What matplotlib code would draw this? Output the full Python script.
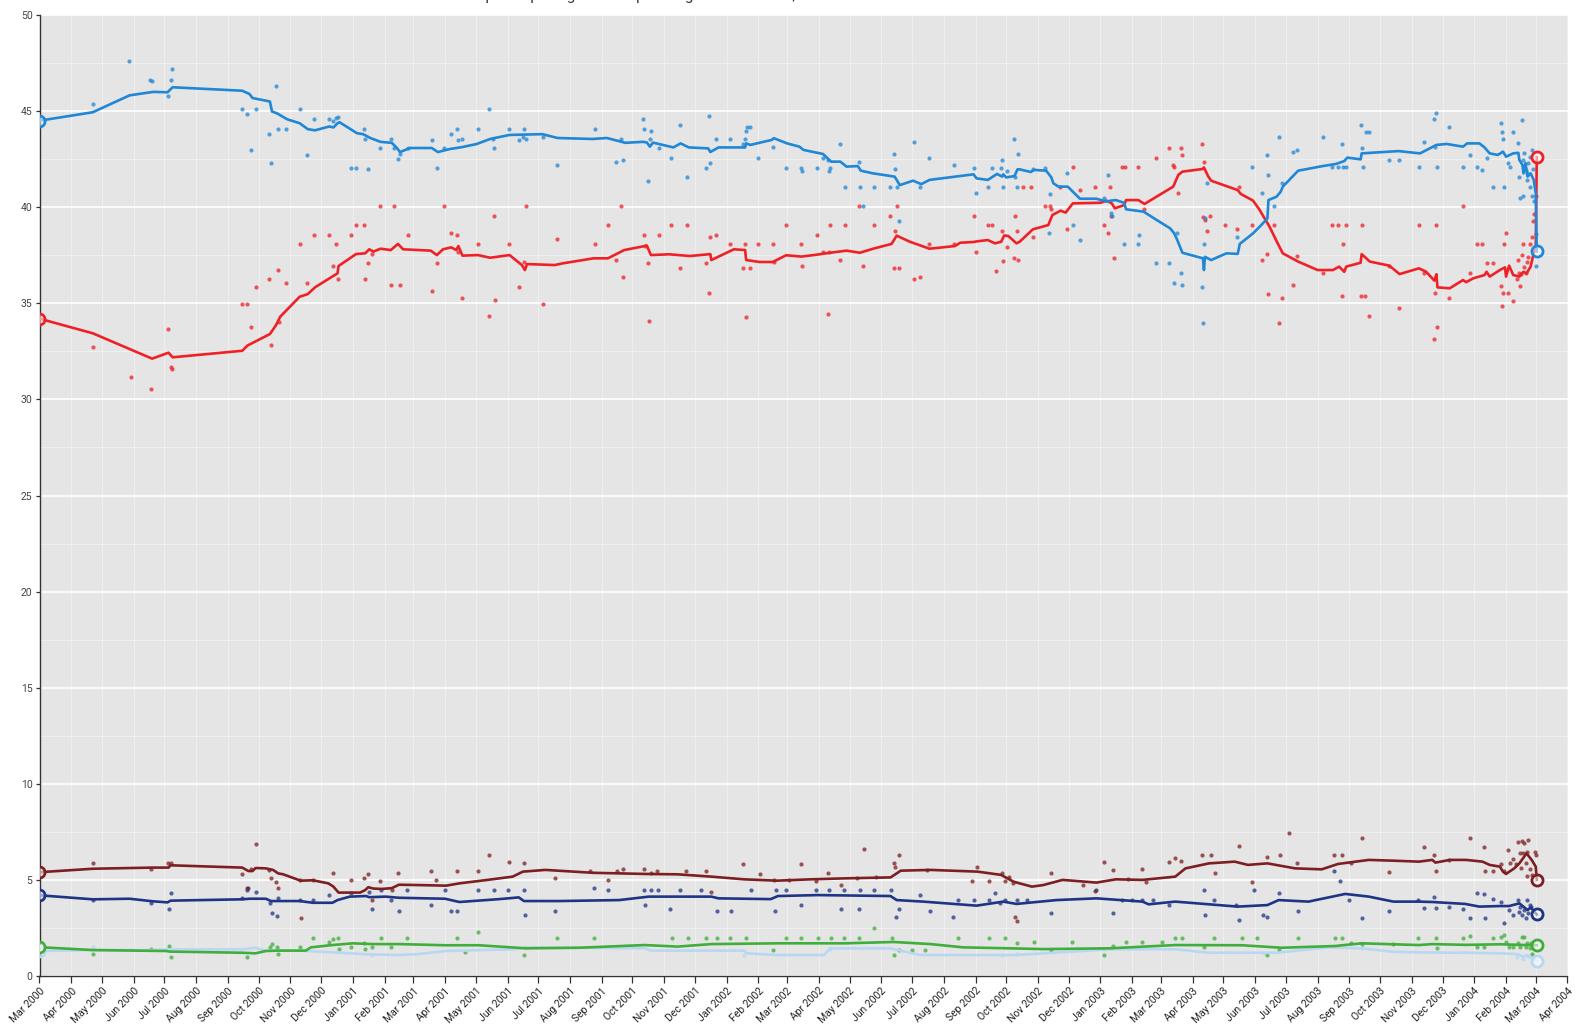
import matplotlib
matplotlib.use('Agg')
import matplotlib.pyplot as plt
import matplotlib.dates as mdates
from matplotlib.ticker import MultipleLocator
import pandas as pd

plt.rcParams['font.family'] = ['Roboto', 'DejaVu Sans']

# ---------------- PP ----------------
pp_trend_dates = [
    '2000-03-01', '2000-04-22', '2000-05-28', '2000-06-20', '2000-07-04', '2000-07-09', '2000-09-15',
    '2000-09-22', '2000-09-25', '2000-10-12', '2000-10-14', '2000-10-19', '2000-10-29', '2000-11-10',
    '2000-11-18', '2000-11-25', '2000-12-09', '2000-12-13', '2000-12-17', '2000-12-19', '2001-01-05',
    '2001-01-11', '2001-01-18', '2001-01-28', '2001-02-08', '2001-02-13', '2001-02-16', '2001-02-26',
    '2001-03-19', '2001-03-25', '2001-04-06', '2001-04-18', '2001-05-02', '2001-05-15', '2001-06-03',
    '2001-07-05', '2001-07-20', '2001-08-23', '2001-09-06', '2001-09-24', '2001-10-11', '2001-10-15',
    '2001-10-18', '2001-10-21', '2001-11-10', '2001-11-17', '2001-11-25', '2001-12-14', '2001-12-16',
    '2001-12-24', '2002-01-19', '2002-01-20', '2002-01-24', '2002-02-14', '2002-02-16', '2002-03-01',
    '2002-03-13', '2002-03-17', '2002-04-05', '2002-04-13', '2002-04-22', '2002-04-28', '2002-05-09',
    '2002-05-12', '2002-05-24', '2002-06-14', '2002-06-19', '2002-07-02', '2002-07-10', '2002-07-18',
    '2002-08-12', '2002-08-30', '2002-09-02', '2002-09-13', '2002-09-22', '2002-09-27', '2002-09-28',
    '2002-10-01', '2002-10-09', '2002-10-12', '2002-10-14', '2002-10-25', '2002-10-28', '2002-11-09',
    '2002-11-14', '2002-11-16', '2002-11-21', '2002-11-30', '2002-12-12', '2002-12-28', '2003-01-07',
    '2003-01-11', '2003-01-16', '2003-01-24', '2003-01-26', '2003-02-12', '2003-02-25', '2003-03-10',
    '2003-03-14', '2003-03-17', '2003-03-22', '2003-04-11', '2003-04-12', '2003-04-13', '2003-04-19',
    '2003-05-04', '2003-05-15', '2003-05-17', '2003-05-30', '2003-06-07', '2003-06-13', '2003-06-14',
    '2003-06-22', '2003-06-26', '2003-06-28', '2003-07-13', '2003-08-06', '2003-08-19', '2003-08-27',
    '2003-08-30', '2003-09-12', '2003-09-13', '2003-10-19', '2003-11-09', '2003-11-25', '2003-12-05',
    '2003-12-21', '2003-12-25', '2004-01-06', '2004-01-11', '2004-01-16', '2004-01-24', '2004-01-29',
    '2004-02-01', '2004-02-08', '2004-02-13', '2004-02-14', '2004-02-17', '2004-02-18', '2004-02-20',
    '2004-02-22', '2004-02-25', '2004-02-28', '2004-03-01', '2004-03-02']
pp_trend = [
    44.5, 44.94, 45.82, 46.0, 45.98, 46.24, 46.06, 45.89, 45.68, 45.5, 44.98, 44.88, 44.57, 44.37,
    44.06, 44.0, 44.2, 44.15, 44.37, 44.42, 43.85, 43.8, 43.6, 43.4, 43.35, 43.08, 42.87, 43.08,
    43.08, 42.87, 43.03, 43.13, 43.29, 43.55, 43.76, 43.8, 43.6, 43.55, 43.6, 43.35, 43.4, 43.37,
    43.15, 43.36, 43.11, 43.32, 43.11, 43.06, 42.87, 43.11, 43.11, 43.32, 43.24, 43.5, 43.59, 43.32,
    43.15, 42.98, 42.77, 42.37, 42.37, 42.11, 42.14, 41.9, 41.76, 41.59, 41.15, 41.38, 41.2, 41.42,
    41.59, 41.71, 41.5, 41.42, 41.73, 41.59, 41.71, 41.55, 41.62, 41.97, 41.97, 41.83, 41.94, 41.9,
    41.55, 41.24, 41.07, 41.07, 40.44, 40.44, 40.29, 40.34, 40.37, 40.23, 39.89, 39.77, 39.33, 38.9,
    38.64, 38.29, 37.63, 37.34, 36.73, 37.42, 37.25, 37.6, 37.57, 38.09, 38.64, 39.07, 39.42, 40.37,
    40.55, 40.81, 41.07, 41.9, 42.14, 42.25, 42.4, 42.58, 42.49, 42.8, 42.92, 42.8, 43.24, 43.29,
    43.15, 43.32, 43.32, 43.11, 42.8, 42.72, 42.89, 42.63, 42.8, 42.83, 42.46, 42.2, 41.76, 42.3,
    41.59, 41.76, 41.42, 40.72, 37.7]
pp_poll_dates = [
    '2000-04-22', '2000-05-27', '2000-06-17', '2000-06-19', '2000-07-04', '2000-07-07', '2000-07-08',
    '2000-09-15', '2000-09-20', '2000-09-24', '2000-09-28', '2000-10-11', '2000-10-13', '2000-10-18',
    '2000-10-20', '2000-10-28', '2000-11-10', '2000-11-17', '2000-11-24', '2000-12-09', '2000-12-13',
    '2000-12-16', '2000-12-17', '2000-12-30', '2001-01-04', '2001-01-12', '2001-01-13', '2001-01-16',
    '2001-01-27', '2001-02-07', '2001-02-10', '2001-02-14', '2001-02-16', '2001-02-24', '2001-03-19',
    '2001-03-24', '2001-03-31', '2001-04-07', '2001-04-13', '2001-04-14', '2001-04-18', '2001-05-03',
    '2001-05-14', '2001-05-18', '2001-05-19', '2001-06-02', '2001-06-12', '2001-06-16', '2001-06-17',
    '2001-06-19', '2001-07-06', '2001-07-19', '2001-08-25', '2001-09-15', '2001-09-20', '2001-09-22',
    '2001-10-11', '2001-10-12', '2001-10-16', '2001-10-18', '2001-10-19', '2001-10-27', '2001-11-08',
    '2001-11-16', '2001-11-23', '2001-12-12', '2001-12-16', '2001-12-15', '2001-12-22', '2002-01-04',
    '2002-01-19', '2002-01-20', '2002-01-21', '2002-01-24', '2002-01-17', '2002-02-01', '2002-02-15',
    '2002-02-28', '2002-03-15', '2002-03-16', '2002-03-30', '2002-04-05', '2002-04-10', '2002-04-12',
    '2002-04-11', '2002-04-22', '2002-04-27', '2002-05-10', '2002-05-11', '2002-05-14', '2002-05-25',
    '2002-06-09', '2002-06-13', '2002-06-14', '2002-06-16', '2002-06-18', '2002-07-03', '2002-07-09',
    '2002-07-18', '2002-08-11', '2002-08-30', '2002-09-01', '2002-09-13', '2002-09-17', '2002-09-27',
    '2002-09-26', '2002-09-28', '2002-10-02', '2002-10-09', '2002-10-12', '2002-10-10', '2002-10-11',
    '2002-10-27', '2002-11-08', '2002-11-13', '2002-11-12', '2002-11-29', '2002-12-05', '2002-12-12',
    '2003-01-04', '2003-01-08', '2003-01-11', '2003-01-12', '2003-01-24', '2003-02-07', '2003-02-08',
    '2003-02-24', '2003-03-09', '2003-03-14', '2003-03-17', '2003-03-21', '2003-03-22', '2003-04-10',
    '2003-04-11', '2003-04-12', '2003-04-13', '2003-04-15', '2003-05-14', '2003-05-29', '2003-06-08',
    '2003-06-13', '2003-06-14', '2003-06-19', '2003-06-24', '2003-06-27', '2003-07-08', '2003-07-12',
    '2003-08-06', '2003-08-15', '2003-08-21', '2003-08-26', '2003-08-29', '2003-08-25', '2003-09-12',
    '2003-09-13', '2003-09-14', '2003-09-17', '2003-09-20', '2003-10-10', '2003-10-19', '2003-11-08',
    '2003-11-13', '2003-11-23', '2003-11-25', '2003-11-26', '2003-11-24', '2003-12-07', '2003-12-21',
    '2003-12-28', '2004-01-04', '2004-01-09', '2004-01-13', '2004-01-19', '2004-01-27', '2004-01-28',
    '2004-01-29', '2004-01-30', '2004-02-03', '2004-02-05', '2004-02-08', '2004-02-13', '2004-02-15',
    '2004-02-17', '2004-02-14', '2004-02-18', '2004-02-19', '2004-02-20', '2004-02-21', '2004-02-22',
    '2004-02-24', '2004-02-26', '2004-02-26', '2004-02-27', '2004-02-28', '2004-03-01', '2004-03-01',
    '2004-02-18', '2004-02-24', '2004-02-21']
pp_polls = [
    45.38, 47.6, 46.6, 46.57, 45.79, 46.6, 47.2, 45.09, 44.87, 42.98, 45.09, 43.79, 42.28, 46.31,
    44.07, 44.07, 45.09, 42.7, 44.59, 44.59, 44.5, 44.62, 44.71, 42.05, 42.05, 44.07, 43.55, 41.97,
    43.1, 43.55, 43.06, 42.49, 42.77, 43.1, 43.5, 42.05, 43.1, 43.79, 44.07, 43.5, 43.55, 44.07,
    45.09, 43.55, 43.1, 44.07, 43.5, 43.67, 44.07, 43.55, 43.67, 42.18, 44.07, 42.37, 43.55, 42.46,
    44.57, 44.07, 41.38, 43.55, 43.97, 43.1, 42.58, 44.3, 41.55, 42.05, 42.28, 44.76, 43.55, 43.55,
    43.55, 43.97, 44.19, 44.19, 43.27, 42.58, 43.15, 42.05, 42.05, 41.88, 42.05, 42.58, 42.46, 42.05,
    41.88, 43.27, 41.07, 42.37, 41.07, 40.06, 41.07, 41.07, 42.77, 41.97, 41.07, 39.26, 43.37, 41.07,
    42.58, 42.18, 42.05, 40.75, 41.07, 42.05, 42.46, 42.05, 41.07, 41.88, 43.55, 42.77, 41.55, 41.07,
    41.97, 42.05, 40.69, 38.67, 41.8, 39.07, 38.29, 40.46, 41.68, 39.68, 39.54, 38.07, 38.07, 38.55,
    37.08, 37.08, 36.07, 38.67, 36.56, 35.95, 35.86, 33.96, 38.07, 39.42, 41.24, 38.47, 42.07, 40.75,
    42.7, 41.68, 40.06, 43.67, 41.24, 42.87, 42.98, 43.67, 42.07, 42.07, 42.07, 42.07, 43.27, 44.3,
    43.1, 42.07, 43.9, 43.9, 42.46, 42.46, 42.07, 43.37, 44.59, 44.88, 42.07, 43.11, 44.19, 42.07,
    42.7, 42.07, 41.94, 42.58, 41.07, 44.36, 43.93, 43.55, 41.07, 42.28, 42.07, 43.93, 43.36, 40.46,
    44.54, 41.59, 40.6, 42.8, 41.94, 41.42, 42.28, 41.07, 40.6, 42.96, 42.0, 40.3, 38.6, 36.96,
    42.46, 42.6, 41.8]

# ---------------- PSOE ----------------
psoe_trend_dates = [
    '2000-03-01', '2000-04-22', '2000-06-19', '2000-07-05', '2000-07-09', '2000-09-15', '2000-09-20',
    '2000-10-12', '2000-10-18', '2000-10-22', '2000-11-10', '2000-11-18', '2000-11-25', '2000-12-17',
    '2000-12-18', '2001-01-04', '2001-01-13', '2001-01-17', '2001-01-21', '2001-01-28', '2001-02-07',
    '2001-02-14', '2001-02-19', '2001-03-18', '2001-03-24', '2001-03-30', '2001-04-07', '2001-04-12',
    '2001-04-14', '2001-04-18', '2001-05-03', '2001-05-15', '2001-06-03', '2001-06-15', '2001-06-18',
    '2001-06-20', '2001-07-17', '2001-07-25', '2001-08-24', '2001-09-07', '2001-09-23', '2001-10-13',
    '2001-10-15', '2001-10-19', '2001-11-06', '2001-11-26', '2001-12-16', '2001-12-17', '2002-01-08',
    '2002-01-19', '2002-01-20', '2002-02-02', '2002-02-15', '2002-02-28', '2002-03-15', '2002-03-30',
    '2002-04-12', '2002-04-28', '2002-05-11', '2002-05-24', '2002-06-11', '2002-06-16', '2002-06-29',
    '2002-07-18', '2002-08-12', '2002-08-17', '2002-08-30', '2002-09-02', '2002-09-13', '2002-09-20',
    '2002-09-26', '2002-09-29', '2002-10-03', '2002-10-11', '2002-10-14', '2002-10-27', '2002-11-11',
    '2002-11-15', '2002-11-23', '2002-11-28', '2002-12-05', '2003-01-01', '2003-01-07', '2003-01-12',
    '2003-01-15', '2003-01-24', '2003-01-26', '2003-02-07', '2003-02-13', '2003-03-13', '2003-03-18',
    '2003-03-22', '2003-04-11', '2003-04-12', '2003-04-16', '2003-04-19', '2003-05-15', '2003-05-18',
    '2003-05-30', '2003-06-05', '2003-06-15', '2003-06-23', '2003-06-28', '2003-07-13', '2003-08-01',
    '2003-08-16', '2003-08-22', '2003-08-27', '2003-08-29', '2003-09-12', '2003-09-13', '2003-09-21',
    '2003-10-10', '2003-10-20', '2003-11-08', '2003-11-15', '2003-11-23', '2003-11-25', '2003-11-26',
    '2003-12-08', '2003-12-21', '2003-12-24', '2003-12-31', '2004-01-11', '2004-01-13', '2004-01-16',
    '2004-01-26', '2004-01-31', '2004-02-01', '2004-02-04', '2004-02-08', '2004-02-14', '2004-02-18',
    '2004-02-21', '2004-02-25', '2004-02-28', '2004-03-01', '2004-03-02']
psoe_trend = [
    34.2, 33.44, 32.12, 32.43, 32.19, 32.53, 32.8, 33.4, 33.87, 34.3, 35.34, 35.48, 35.83, 36.56,
    36.94, 37.56, 37.6, 37.81, 37.69, 37.84, 37.77, 38.09, 37.81, 37.74, 37.51, 37.81, 37.91, 37.77,
    37.98, 37.48, 37.51, 37.37, 37.51, 36.99, 36.73, 37.04, 36.99, 37.08, 37.34, 37.34, 37.77, 37.98,
    38.01, 37.51, 37.55, 37.46, 37.56, 37.25, 37.81, 37.77, 37.25, 37.15, 37.15, 37.5, 37.43, 37.53,
    37.63, 37.74, 37.63, 37.84, 38.09, 38.52, 38.2, 37.84, 37.98, 38.15, 38.19, 38.22, 38.29, 38.12,
    38.2, 38.53, 38.5, 38.12, 38.2, 38.85, 39.07, 39.59, 39.82, 39.72, 40.2, 40.23, 40.34, 40.2,
    39.94, 40.11, 40.37, 40.37, 40.17, 41.07, 41.68, 41.85, 41.99, 42.07, 41.62, 41.38, 40.89, 40.69,
    40.34, 39.89, 38.99, 38.12, 37.6, 37.17, 36.73, 36.73, 36.91, 36.64, 36.91, 37.11, 37.56, 37.17,
    36.96, 36.52, 36.82, 36.64, 36.18, 36.51, 35.83, 35.78, 36.21, 36.1, 36.3, 36.47, 36.64, 36.39,
    36.73, 36.87, 36.39, 36.96, 36.47, 36.39, 36.64, 36.55, 36.91, 37.6, 37.9, 42.6]
psoe_poll_dates = [
    '2000-04-22', '2000-05-29', '2000-06-18', '2000-07-04', '2000-07-07', '2000-07-08', '2000-09-15',
    '2000-09-20', '2000-09-24', '2000-09-28', '2000-10-11', '2000-10-13', '2000-10-20', '2000-10-21',
    '2000-10-28', '2000-11-10', '2000-11-17', '2000-11-24', '2000-12-09', '2000-12-13', '2000-12-16',
    '2000-12-17', '2000-12-30', '2001-01-04', '2001-01-12', '2001-01-13', '2001-01-16', '2001-01-20',
    '2001-01-27', '2001-02-07', '2001-02-10', '2001-02-16', '2001-02-24', '2001-03-19', '2001-03-24',
    '2001-03-31', '2001-04-07', '2001-04-13', '2001-04-14', '2001-04-18', '2001-05-03', '2001-05-14',
    '2001-05-19', '2001-05-20', '2001-06-02', '2001-06-12', '2001-06-17', '2001-06-19', '2001-07-06',
    '2001-07-19', '2001-08-25', '2001-09-07', '2001-09-15', '2001-09-20', '2001-09-22', '2001-10-12',
    '2001-10-13', '2001-10-16', '2001-10-17', '2001-10-27', '2001-11-08', '2001-11-16', '2001-11-23',
    '2001-12-12', '2001-12-16', '2001-12-15', '2001-12-22', '2002-01-04', '2002-01-17', '2002-01-19',
    '2002-01-20', '2002-01-24', '2002-02-01', '2002-02-15', '2002-02-16', '2002-02-28', '2002-03-15',
    '2002-03-16', '2002-03-30', '2002-04-05', '2002-04-10', '2002-04-12', '2002-04-11', '2002-04-22',
    '2002-04-27', '2002-05-10', '2002-05-14', '2002-05-25', '2002-06-09', '2002-06-13', '2002-06-14',
    '2002-06-16', '2002-06-18', '2002-07-03', '2002-07-09', '2002-07-18', '2002-08-11', '2002-08-30',
    '2002-09-01', '2002-09-13', '2002-09-17', '2002-09-21', '2002-09-27', '2002-09-28', '2002-10-02',
    '2002-10-09', '2002-10-11', '2002-10-10', '2002-10-12', '2002-10-17', '2002-10-25', '2002-10-27',
    '2002-11-08', '2002-11-13', '2002-11-14', '2002-11-22', '2002-11-29', '2002-12-05', '2002-12-12',
    '2002-12-27', '2003-01-04', '2003-01-08', '2003-01-10', '2003-01-11', '2003-01-14', '2003-01-22',
    '2003-01-25', '2003-02-07', '2003-02-12', '2003-02-24', '2003-03-09', '2003-03-13', '2003-03-14',
    '2003-03-18', '2003-03-21', '2003-03-22', '2003-04-10', '2003-04-12', '2003-04-11', '2003-04-13',
    '2003-04-18', '2003-04-15', '2003-05-03', '2003-05-14', '2003-05-16', '2003-05-29', '2003-06-08',
    '2003-06-13', '2003-06-14', '2003-06-19', '2003-06-24', '2003-06-27', '2003-07-08', '2003-07-12',
    '2003-08-06', '2003-08-15', '2003-08-21', '2003-08-26', '2003-08-25', '2003-08-29', '2003-09-13',
    '2003-09-12', '2003-09-16', '2003-09-20', '2003-10-10', '2003-10-19', '2003-11-08', '2003-11-13',
    '2003-11-25', '2003-11-24', '2003-11-26', '2003-11-23', '2003-12-07', '2003-12-21', '2003-12-28',
    '2004-01-04', '2004-01-09', '2004-01-13', '2004-01-19', '2004-01-27', '2004-01-28', '2004-01-29',
    '2004-02-01', '2004-01-30', '2004-02-03', '2004-02-08', '2004-02-13', '2004-02-12', '2004-02-15',
    '2004-02-14', '2004-02-17', '2004-02-18', '2004-02-19', '2004-02-21', '2004-02-22', '2004-02-24',
    '2004-02-26', '2004-02-27', '2004-02-28', '2004-03-01', '2004-02-20', '2004-02-16']
psoe_polls = [
    32.74, 31.15, 30.54, 33.66, 31.67, 31.56, 34.96, 34.96, 33.75, 35.86, 36.26, 32.83, 36.73, 34.04,
    36.04, 38.07, 36.04, 38.57, 38.57, 36.96, 38.07, 36.26, 38.57, 39.07, 39.07, 36.26, 37.08, 37.55,
    40.06, 35.95, 40.06, 35.95, 38.57, 35.66, 37.08, 40.06, 38.67, 38.57, 37.65, 35.26, 38.07, 34.34,
    39.54, 35.16, 38.07, 35.86, 37.17, 40.06, 34.96, 38.35, 38.07, 39.07, 37.25, 40.06, 36.35, 38.57,
    38.0, 37.08, 34.08, 38.57, 39.07, 36.85, 39.07, 37.08, 38.47, 35.55, 38.57, 38.07, 36.85, 38.07,
    34.27, 36.85, 38.07, 38.07, 37.15, 39.07, 38.07, 36.96, 38.57, 37.65, 34.46, 39.07, 37.65, 37.25,
    39.07, 40.06, 36.96, 39.07, 39.54, 36.85, 38.76, 40.06, 36.85, 36.28, 36.35, 38.07, 38.07, 39.54,
    37.65, 39.07, 39.07, 36.68, 38.76, 37.2, 37.95, 37.37, 38.76, 39.54, 37.25, 41.07, 41.07, 38.47,
    40.06, 40.06, 39.89, 41.07, 38.85, 42.07, 40.89, 41.07, 39.07, 38.67, 41.07, 39.54, 37.37, 42.07,
    42.07, 42.07, 39.89, 42.58, 43.1, 42.18, 42.07, 40.75, 43.1, 42.7, 43.27, 42.37, 39.5, 39.33,
    39.54, 38.76, 39.07, 38.85, 41.07, 39.07, 37.25, 37.55, 35.48, 39.07, 33.96, 35.26, 35.95, 37.48,
    36.56, 39.07, 39.07, 38.07, 35.38, 39.07, 39.07, 35.38, 35.38, 34.35, 36.96, 34.74, 39.07, 36.56,
    39.07, 35.55, 33.75, 33.14, 35.26, 40.06, 36.56, 38.07, 38.07, 37.08, 37.08, 35.9, 34.86, 35.52,
    38.67, 38.07, 35.55, 35.14, 37.25, 36.25, 35.9, 36.6, 37.5, 38.07, 36.9, 37.17, 37.43, 38.07,
    38.47, 39.28, 39.64, 40.58, 36.6, 36.5]

# ---------------- IU ----------------
iu_trend_dates = [
    '2000-03-01', '2000-04-22', '2000-06-19', '2000-07-05', '2000-07-07', '2000-09-15', '2000-09-21',
    '2000-09-25', '2000-09-28', '2000-10-08', '2000-10-15', '2000-10-20', '2000-10-25', '2000-11-11',
    '2000-11-23', '2000-12-08', '2000-12-13', '2000-12-18', '2001-01-08', '2001-01-13', '2001-01-16',
    '2001-01-21', '2001-01-29', '2001-02-08', '2001-02-15', '2001-03-07', '2001-04-02', '2001-04-15',
    '2001-05-11', '2001-06-06', '2001-06-16', '2001-07-08', '2001-08-23', '2001-10-13', '2001-11-14',
    '2001-12-17', '2002-01-18', '2002-02-19', '2002-03-24', '2002-04-26', '2002-06-10', '2002-06-20',
    '2002-07-19', '2002-09-03', '2002-09-26', '2002-10-08', '2002-10-14', '2002-10-26', '2002-11-06',
    '2002-11-25', '2002-12-28', '2003-01-16', '2003-02-11', '2003-03-15', '2003-03-25', '2003-04-17',
    '2003-05-12', '2003-05-25', '2003-06-13', '2003-07-10', '2003-08-05', '2003-08-21', '2003-09-20',
    '2003-10-14', '2003-11-08', '2003-11-21', '2003-11-24', '2003-12-08', '2003-12-24', '2004-01-09',
    '2004-01-16', '2004-01-26', '2004-01-29', '2004-02-01', '2004-02-09', '2004-02-14', '2004-02-21',
    '2004-02-26', '2004-03-01', '2004-03-02']
iu_trend = [
    5.4, 5.58, 5.64, 5.64, 5.76, 5.64, 5.46, 5.46, 5.62, 5.6, 5.52, 5.34, 5.29, 4.96, 4.98, 4.82,
    4.65, 4.34, 4.34, 4.47, 4.62, 4.55, 4.53, 4.57, 4.75, 4.73, 4.7, 4.82, 4.99, 5.17, 5.43, 5.52,
    5.37, 5.31, 5.29, 5.17, 5.03, 4.96, 5.03, 5.08, 5.13, 5.48, 5.52, 5.43, 5.26, 4.91, 4.82, 4.65,
    4.73, 5.0, 4.86, 5.03, 5.0, 5.17, 5.6, 5.86, 5.95, 5.78, 5.86, 5.6, 5.55, 5.83, 6.04, 6.0, 5.95,
    6.04, 5.9, 6.04, 6.04, 5.95, 5.78, 5.69, 5.43, 5.31, 5.6, 5.86, 6.38, 6.04, 5.69, 5.0]
iu_poll_dates = [
    '2000-04-22', '2000-06-18', '2000-07-04', '2000-07-07', '2000-09-15', '2000-09-20', '2000-09-24',
    '2000-09-28', '2000-10-11', '2000-10-13', '2000-10-18', '2000-10-20', '2000-11-10', '2000-11-11',
    '2000-11-23', '2000-12-13', '2000-12-30', '2001-01-12', '2001-01-16', '2001-01-20', '2001-01-27',
    '2001-02-08', '2001-02-14', '2001-03-23', '2001-03-18', '2001-04-13', '2001-05-03', '2001-05-14',
    '2001-06-02', '2001-06-17', '2001-07-17', '2001-08-21', '2001-09-07', '2001-09-16', '2001-09-22',
    '2001-10-12', '2001-10-19', '2001-10-25', '2001-11-22', '2001-12-12', '2001-12-17', '2002-01-17',
    '2002-02-03', '2002-02-16', '2002-03-03', '2002-03-15', '2002-03-29', '2002-04-10', '2002-04-23',
    '2002-05-08', '2002-05-15', '2002-05-27', '2002-06-13', '2002-06-18', '2002-06-14', '2002-07-16',
    '2002-08-29', '2002-09-02', '2002-09-14', '2002-09-27', '2002-09-30', '2002-10-04', '2002-10-08',
    '2002-10-10', '2002-10-11', '2002-11-14', '2002-12-15', '2002-12-27', '2003-01-04', '2003-01-13',
    '2003-01-28', '2003-02-11', '2003-02-14', '2003-03-09', '2003-03-15', '2003-03-21', '2003-04-10',
    '2003-04-19', '2003-04-23', '2003-05-16', '2003-05-29', '2003-06-13', '2003-06-25', '2003-07-04',
    '2003-07-12', '2003-08-17', '2003-08-25', '2003-09-03', '2003-09-13', '2003-10-10', '2003-11-13',
    '2003-11-23', '2003-11-25', '2003-12-07', '2003-12-28', '2004-01-10', '2004-01-11', '2004-01-19',
    '2004-01-27', '2004-01-30', '2004-02-03', '2004-02-05', '2004-02-08', '2004-02-11', '2004-02-13',
    '2004-02-15', '2004-02-16', '2004-02-17', '2004-02-18', '2004-02-19', '2004-02-20', '2004-02-21',
    '2004-02-21', '2004-02-22', '2004-02-24', '2004-02-26', '2004-02-29', '2004-03-01']
iu_polls = [
    5.9, 5.57, 5.9, 5.9, 5.29, 4.56, 5.57, 6.87, 5.52, 5.08, 4.87, 4.56, 5.0, 3.0, 5.0, 5.37, 4.99,
    5.08, 5.29, 3.95, 4.96, 4.47, 5.37, 5.0, 5.48, 5.48, 5.48, 6.3, 5.95, 5.9, 5.08, 5.48, 5.0, 5.48,
    5.55, 5.55, 5.34, 5.48, 5.48, 5.48, 4.39, 5.83, 5.31, 5.0, 5.0, 5.83, 4.96, 5.37, 4.73, 5.08,
    6.59, 5.13, 5.9, 6.3, 5.66, 5.52, 4.96, 5.69, 4.96, 5.34, 4.96, 5.13, 4.86, 3.09, 2.88, 5.37,
    4.73, 4.44, 5.95, 5.52, 5.03, 5.55, 4.91, 5.95, 6.12, 6.0, 6.3, 6.3, 5.37, 6.76, 4.91, 6.21,
    6.3, 7.44, 5.9, 6.3, 6.3, 5.9, 7.2, 5.4, 6.73, 6.3, 5.48, 6.04, 7.16, 6.7, 5.48, 5.48, 5.83,
    5.48, 6.56, 5.9, 6.11, 5.83, 6.99, 6.38, 5.6, 7.04, 6.42, 6.9, 5.9, 6.47, 5.2, 7.1, 5.56, 5.26,
    6.47, 6.3]

# ---------------- CiU ----------------
ciu_trend_dates = [
    '2000-03-01', '2000-04-22', '2000-05-28', '2000-06-19', '2000-07-04', '2000-07-07', '2000-09-15',
    '2000-09-22', '2000-10-08', '2000-10-13', '2000-11-10', '2000-11-23', '2000-12-12', '2000-12-17',
    '2000-12-29', '2001-01-14', '2001-01-17', '2001-02-02', '2001-02-15', '2001-04-01', '2001-04-15',
    '2001-05-24', '2001-06-12', '2001-06-17', '2001-07-22', '2001-09-18', '2001-10-17', '2001-12-17',
    '2001-12-24', '2002-02-13', '2002-02-20', '2002-03-31', '2002-06-10', '2002-06-16', '2002-07-12',
    '2002-09-02', '2002-09-28', '2002-10-11', '2002-11-19', '2002-12-28', '2003-02-11', '2003-02-17',
    '2003-03-15', '2003-04-17', '2003-05-15', '2003-06-13', '2003-06-24', '2003-07-23', '2003-08-28',
    '2003-09-20', '2003-10-14', '2003-11-08', '2003-11-21', '2003-12-23', '2004-01-06', '2004-01-26',
    '2004-02-04', '2004-02-14', '2004-02-22', '2004-02-25', '2004-03-02']
ciu_trend = [
    4.2, 3.99, 4.02, 3.89, 3.83, 3.92, 3.99, 4.02, 4.02, 3.9, 3.9, 3.81, 3.81, 3.95, 4.13, 4.16,
    4.1, 4.13, 4.07, 4.02, 3.85, 4.0, 4.09, 3.9, 3.9, 3.95, 4.13, 4.13, 4.04, 4.0, 4.16, 4.21, 4.16,
    3.95, 3.87, 3.66, 3.87, 3.75, 3.95, 4.04, 3.87, 3.73, 3.87, 3.73, 3.61, 3.69, 3.95, 3.87, 4.27,
    4.13, 3.87, 3.87, 3.85, 3.75, 3.61, 3.64, 3.64, 3.78, 3.43, 3.57, 3.2]
ciu_poll_dates = [
    '2000-04-22', '2000-06-18', '2000-07-05', '2000-07-07', '2000-09-15', '2000-09-20', '2000-09-21',
    '2000-09-28', '2000-10-12', '2000-10-14', '2000-10-19', '2000-10-20', '2000-11-10', '2000-11-23',
    '2000-12-09', '2000-12-30', '2001-01-17', '2001-01-20', '2001-01-28', '2001-02-07', '2001-02-15',
    '2001-02-23', '2001-03-18', '2001-04-01', '2001-04-07', '2001-04-13', '2001-05-03', '2001-05-19',
    '2001-06-01', '2001-06-17', '2001-06-18', '2001-07-17', '2001-08-24', '2001-09-07', '2001-10-12',
    '2001-10-13', '2001-10-19', '2001-10-26', '2001-11-07', '2001-11-16', '2001-12-07', '2001-12-23',
    '2002-01-05', '2002-01-25', '2002-02-17', '2002-02-18', '2002-02-28', '2002-03-15', '2002-03-29',
    '2002-04-11', '2002-04-23', '2002-04-26', '2002-05-10', '2002-05-11', '2002-05-25', '2002-06-10',
    '2002-06-15', '2002-06-18', '2002-07-09', '2002-07-19', '2002-08-10', '2002-08-15', '2002-08-30',
    '2002-09-14', '2002-09-20', '2002-09-25', '2002-09-30', '2002-10-11', '2002-10-21', '2002-11-14',
    '2002-12-28', '2003-01-13', '2003-01-22', '2003-02-01', '2003-02-11', '2003-02-21', '2003-03-09',
    '2003-04-12', '2003-04-13', '2003-04-22', '2003-05-13', '2003-05-16', '2003-05-31', '2003-06-09',
    '2003-06-13', '2003-06-24', '2003-07-13', '2003-08-17', '2003-08-23', '2003-09-01', '2003-09-13',
    '2003-10-10', '2003-11-07', '2003-11-13', '2003-11-23', '2003-11-25', '2003-12-07', '2003-12-21',
    '2003-12-28', '2004-01-04', '2004-01-10', '2004-01-11', '2004-01-19', '2004-01-27', '2004-01-30',
    '2004-02-04', '2004-02-08', '2004-02-13', '2004-02-14', '2004-02-15', '2004-02-17', '2004-02-19',
    '2004-02-20', '2004-02-21', '2004-02-22', '2004-02-24', '2004-02-25']
ciu_polls = [
    3.95, 3.78, 3.48, 4.3, 4.04, 4.47, 4.56, 4.39, 3.78, 3.26, 3.14, 4.07, 3.95, 3.95, 4.2, 4.34,
    4.39, 3.47, 4.47, 3.95, 3.4, 4.47, 3.69, 4.47, 3.4, 3.4, 4.47, 4.47, 4.47, 4.47, 3.17, 3.4, 4.56,
    4.47, 4.47, 3.69, 4.47, 4.47, 3.47, 4.47, 4.47, 3.4, 3.4, 4.47, 3.4, 4.47, 4.47, 3.69, 4.47, 4.47,
    3.47, 4.47, 3.47, 4.47, 4.47, 4.47, 3.05, 3.47, 4.21, 3.4, 3.05, 3.95, 3.95, 3.95, 4.34, 3.81,
    3.95, 3.95, 3.95, 3.26, 4.47, 3.26, 3.95, 3.95, 3.95, 3.95, 3.69, 4.47, 3.17, 3.95, 3.69, 2.91,
    4.47, 3.17, 3.05, 4.34, 3.4, 5.48, 4.96, 3.95, 3.0, 3.4, 3.95, 3.52, 4.1, 3.52, 3.57, 3.47, 3.0,
    4.3, 4.27, 3.0, 3.99, 3.87, 2.77, 3.43, 3.17, 3.95, 3.35, 3.6, 3.17, 3.43, 3.0, 3.95, 3.3, 3.7,
    3.6]

# ---------------- PNV ----------------
pnv_trend_dates = [
    '2000-03-01', '2000-04-22', '2000-07-03', '2000-07-06', '2000-09-15', '2000-09-28', '2000-10-08',
    '2000-10-18', '2000-11-16', '2000-11-21', '2000-12-12', '2001-01-01', '2001-01-20', '2001-02-15',
    '2001-04-01', '2001-05-04', '2001-06-19', '2001-08-10', '2001-10-13', '2001-11-14', '2001-12-17',
    '2002-02-20', '2002-04-26', '2002-06-13', '2002-07-19', '2002-08-20', '2002-10-04', '2002-11-06',
    '2003-01-10', '2003-03-15', '2003-05-19', '2003-06-27', '2003-08-18', '2003-09-13', '2003-11-08',
    '2003-11-21', '2003-12-24', '2004-01-26', '2004-02-14', '2004-03-02']
pnv_trend = [
    1.5, 1.35, 1.3, 1.27, 1.21, 1.18, 1.3, 1.32, 1.32, 1.49, 1.61, 1.7, 1.66, 1.66, 1.6, 1.6, 1.44,
    1.47, 1.61, 1.53, 1.66, 1.7, 1.7, 1.77, 1.66, 1.49, 1.44, 1.4, 1.44, 1.61, 1.6, 1.47, 1.56, 1.7,
    1.61, 1.66, 1.62, 1.65, 1.62, 1.6]
pnv_poll_dates = [
    '2000-04-22', '2000-06-18', '2000-07-05', '2000-07-07', '2000-09-20', '2000-10-12', '2000-10-14',
    '2000-10-19', '2000-10-20', '2000-11-10', '2000-11-23', '2000-12-09', '2000-12-13', '2000-12-17',
    '2000-12-18', '2000-12-30', '2001-01-12', '2001-01-13', '2001-01-20', '2001-01-28', '2001-02-07',
    '2001-02-23', '2001-04-13', '2001-04-20', '2001-05-03', '2001-06-17', '2001-07-19', '2001-08-24',
    '2001-11-09', '2001-11-24', '2001-12-12', '2001-12-23', '2002-01-04', '2002-01-20', '2002-02-15',
    '2002-02-28', '2002-03-15', '2002-03-31', '2002-04-13', '2002-04-26', '2002-05-10', '2002-05-25',
    '2002-06-11', '2002-06-13', '2002-06-18', '2002-07-01', '2002-07-14', '2002-08-15', '2002-09-14',
    '2002-09-30', '2002-10-11', '2002-10-28', '2002-11-14', '2002-12-04', '2003-01-04', '2003-01-13',
    '2003-01-26', '2003-02-11', '2003-03-02', '2003-03-15', '2003-03-22', '2003-04-12', '2003-04-22',
    '2003-05-19', '2003-06-03', '2003-06-13', '2003-06-24', '2003-07-13', '2003-08-18', '2003-08-25',
    '2003-09-03', '2003-09-13', '2003-10-14', '2003-11-07', '2003-11-25', '2003-11-26', '2003-12-21',
    '2003-12-28', '2004-01-04', '2004-01-10', '2004-01-19', '2004-01-27', '2004-01-30', '2004-02-01',
    '2004-02-04', '2004-02-08', '2004-02-13', '2004-02-15', '2004-02-17', '2004-02-19', '2004-02-20',
    '2004-02-21', '2004-02-24', '2004-02-25', '2004-02-26']
pnv_polls = [
    1.14, 1.39, 1.56, 0.97, 0.97, 1.49, 1.66, 1.49, 1.14, 1.49, 1.96, 1.79, 1.91, 1.96, 1.39, 1.49,
    1.74, 1.39, 1.53, 1.96, 1.49, 1.96, 1.96, 1.26, 2.3, 1.09, 1.96, 1.96, 1.96, 1.96, 1.96, 1.96,
    1.96, 1.96, 1.35, 1.96, 1.96, 1.96, 1.96, 1.96, 1.96, 2.48, 1.96, 1.09, 1.35, 1.35, 1.35, 1.96,
    1.96, 1.96, 1.7, 1.79, 1.35, 1.79, 1.09, 1.56, 1.79, 1.79, 1.79, 1.96, 1.96, 1.49, 1.96, 1.96,
    1.96, 1.09, 1.35, 1.96, 1.96, 1.96, 1.7, 1.66, 1.66, 1.96, 1.96, 1.44, 1.99, 2.08, 1.53, 1.53,
    1.96, 2.01, 2.13, 1.79, 1.53, 1.53, 1.7, 1.53, 2.04, 2.04, 1.53, 1.7, 1.44, 1.7, 1.14]

# ---------------- BNG ----------------
bng_trend_dates = [
    '2000-03-01', '2000-04-22', '2000-06-19', '2000-07-05', '2000-09-15', '2000-09-28', '2000-10-08',
    '2000-11-10', '2000-12-13', '2001-01-15', '2001-02-15', '2001-03-03', '2001-04-02', '2001-06-06',
    '2001-06-25', '2001-10-13', '2001-10-19', '2002-01-18', '2002-01-21', '2002-02-19', '2002-04-06',
    '2002-04-12', '2002-06-10', '2002-07-09', '2002-09-03', '2002-10-11', '2003-01-10', '2003-03-15',
    '2003-04-17', '2003-06-22', '2003-08-12', '2003-09-13', '2003-10-14', '2003-11-08', '2003-12-24',
    '2004-01-26', '2004-02-12', '2004-02-18', '2004-02-21', '2004-03-02']
bng_trend = [
    1.3, 1.35, 1.35, 1.38, 1.39, 1.46, 1.32, 1.32, 1.23, 1.13, 1.09, 1.13, 1.3, 1.39, 1.49, 1.44,
    1.32, 1.32, 1.18, 1.09, 1.09, 1.44, 1.44, 1.09, 1.09, 1.09, 1.39, 1.39, 1.21, 1.21, 1.49, 1.44,
    1.26, 1.23, 1.21, 1.18, 1.14, 1.0, 1.09, 0.8]
bng_poll_dates = [
    '2000-04-22', '2000-07-06', '2000-10-20', '2001-01-20', '2001-06-18', '2002-01-18', '2002-04-12',
    '2002-09-27', '2002-10-11', '2003-01-04', '2003-06-10', '2003-09-13', '2004-02-12', '2004-02-18',
    '2004-02-22', '2004-02-26']
bng_polls = [
    1.5, 1.45, 1.4, 1.1, 1.5, 1.09, 1.4, 1.09, 1.15, 1.4, 1.2, 1.45, 1.0, 0.9, 1.05, 1.15]

parties = [
    ('#b8d7f2', bng_trend_dates, bng_trend, bng_poll_dates, bng_polls),
    ('#3fae3a', pnv_trend_dates, pnv_trend, pnv_poll_dates, pnv_polls),
    ('#1e3585', ciu_trend_dates, ciu_trend, ciu_poll_dates, ciu_polls),
    ('#7d1f22', iu_trend_dates, iu_trend, iu_poll_dates, iu_polls),
    ('#ef2026', psoe_trend_dates, psoe_trend, psoe_poll_dates, psoe_polls),
    ('#1f87d6', pp_trend_dates, pp_trend, pp_poll_dates, pp_polls),
]

fig = plt.figure(figsize=(15.76, 10.24), dpi=100)
ax = fig.add_axes([39.5 / 1576, 48 / 1024, 1528 / 1576, 961 / 1024])
ax.set_facecolor('#e5e5e5')

for colour, tdates, tvals, pdates, pvals in parties:
    ax.scatter(pd.to_datetime(pdates), pvals, s=9, color=colour, alpha=0.75,
               linewidths=0, zorder=3)
for colour, tdates, tvals, pdates, pvals in parties:
    t = pd.to_datetime(tdates)
    ax.plot(t, tvals, color=colour, lw=1.9, solid_joinstyle='round', zorder=4)
    # open circles at both election results
    ax.plot([t[0], t[-1]], [tvals[0], tvals[-1]], 'o', ms=8, mew=2,
            mec=colour, mfc=(1, 1, 1, 0.55), zorder=5)

ax.set_xlim(pd.Timestamp('2000-03-01'), pd.Timestamp('2004-04-01'))
ax.set_ylim(0, 50)

ax.yaxis.set_major_locator(MultipleLocator(5))
ax.yaxis.set_minor_locator(MultipleLocator(2.5))
ax.xaxis.set_major_locator(mdates.MonthLocator())
ax.xaxis.set_major_formatter(mdates.DateFormatter('%b %Y'))

ax.grid(which='major', axis='y', color='white', lw=1.2, zorder=0)
ax.grid(which='minor', axis='y', color='#f2f2f2', lw=0.6, zorder=0)
ax.grid(which='major', axis='x', color='#f0f0f0', lw=0.7, zorder=0)
ax.set_axisbelow(True)

for side in ('top', 'right'):
    ax.spines[side].set_visible(False)
for side in ('left', 'bottom'):
    ax.spines[side].set_color('#333333')
    ax.spines[side].set_linewidth(1.0)

ax.tick_params(axis='x', which='major', length=5, width=0.9, color='#333333',
               labelsize=7.5, labelcolor='#222222', pad=2)
ax.tick_params(axis='y', which='major', length=3, width=0.9, color='#333333',
               labelsize=7.5, labelcolor='#444444', pad=2)
ax.tick_params(axis='y', which='minor', length=0)
plt.setp(ax.get_xticklabels(), rotation=45, ha='right', rotation_mode='anchor')

# title sits above the top edge; only its descenders reach into the canvas
fig.text(0.415, 1.0, 'Opinion polling for the Spanish general election, 2004',
         ha='center', va='baseline', fontsize=11, color='#333333')

fig.savefig('out.png', dpi=100, facecolor='white')
